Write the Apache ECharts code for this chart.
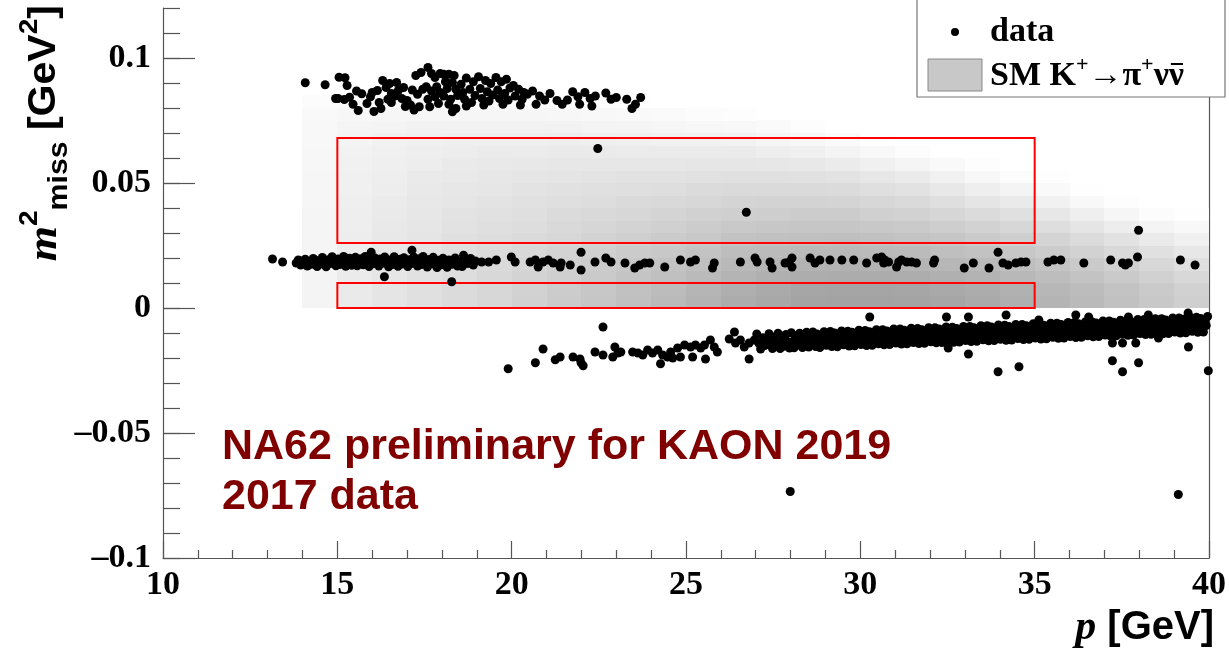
<!DOCTYPE html>
<html>
<head>
<meta charset="utf-8">
<script src="https://cdn.jsdelivr.net/npm/echarts@6/dist/echarts.min.js"></script>
<style>
  html, body { margin: 0; padding: 0; background: #fff; }
  #chart { width: 1229px; height: 658px; }
</style>
</head>
<body>
<div id="chart"></div>
<script>
// ---------- axis ticks ----------
const xMajorTicks = [10, 15, 20, 25, 30, 35, 40];
const yMajorTicks = [-0.1, -0.05, 0, 0.05, 0.1];

// ---------- SM K+ -> pi+ nu nubar expectation (2D histogram) ----------
// columns: 1 GeV momentum bins starting at 14 GeV; rows: 0.005 GeV^2 bins starting at 0
// values: relative density (0 = empty, 100 = darkest)
const smFirstP = 14;
const smPStep = 1;
const smM2Step = 0.005;
const smDensity = [
  [10,10,10,10,9,9,9,9,8,8,8,7,7,6,6,5,3],
  [18,18,17,17,16,16,15,15,14,13,13,12,11,10,9,7,4],
  [23,23,22,21,21,20,19,18,17,16,15,14,13,12,10,8,4],
  [27,27,26,25,24,23,22,21,20,19,18,16,15,13,11,8,4],
  [31,31,30,29,28,27,25,24,22,21,19,18,16,14,11,8,4],
  [35,35,34,32,31,30,28,26,24,22,21,19,17,14,11,8,4],
  [40,39,38,36,34,32,30,28,26,24,22,20,17,14,11,8,3],
  [45,44,42,40,38,35,33,31,28,26,23,21,18,15,11,7,3],
  [50,49,46,44,41,38,36,33,30,27,24,21,18,14,10,6,2],
  [55,54,51,48,45,42,38,35,32,28,25,21,17,13,9,5,1],
  [60,58,55,52,48,45,41,37,33,29,25,21,17,12,8,4],
  [66,64,60,56,52,48,44,40,35,31,26,22,17,12,7,3],
  [72,70,65,61,57,52,47,42,37,32,27,22,17,11,6,2],
  [76,74,69,64,59,54,49,43,38,32,27,21,15,9,4],
  [79,77,71,66,61,55,50,44,38,32,26,20,13,7,2],
  [80,78,72,67,61,56,50,44,37,31,24,17,10,4],
  [80,78,72,66,60,54,48,41,35,28,21,13,6,1],
  [79,77,71,65,59,52,46,39,32,25,17,9,3],
  [77,75,69,63,56,50,43,36,28,20,12,5],
  [74,72,66,60,53,46,39,31,23,15,7,2],
  [70,68,62,56,49,42,35,27,18,10,3],
  [65,63,57,51,44,37,29,21,12,5,1],
  [60,58,52,46,39,31,23,14,6,1],
  [54,52,46,40,33,25,16,8,2],
  [48,46,40,34,27,18,10,3],
  [42,40,34,28,21,13,6,1]
];

// ---------- signal regions: [pMin, pMax, m2Min, m2Max] ----------
const signalRegions = [
  [15, 35, 0.0, 0.010],
  [15, 35, 0.026, 0.068]
];

// ---------- data events: [p (GeV), m2 (1e-3 GeV^2)] ----------
// K+ -> pi+ pi+ pi- region
const threePiEvents = [
  [14.08,90.1],[14.65,89.3],[14.95,83.8],
  [15.05,92.3],[15.22,92.1],[15.28,89.0],[15.02,83.8],[15.2,83.4],[15.35,84.3],[15.45,81.5],
  [15.6,79.0],[15.7,85.7],[15.85,81.8],[15.95,84.5],[15.55,86.8],
  [16.05,78.6],[16.25,79.8],[16.0,86.2],[16.15,87.0],[16.3,91.0],[16.4,88.2],[16.45,83.5],[16.2,82.2],
  [16.5,89.8],[16.7,90.2],[16.55,85.8],[16.75,87.0],[16.9,88.2],[16.55,82.2],[16.85,83.8],[16.65,84.8],[16.95,80.6],
  [17.0,83.0],[17.25,93.0],[17.4,94.2],[17.15,87.2],[17.3,85.5],[17.45,87.5],[17.1,81.2],[17.35,80.5],[17.2,79.2],
  [17.6,96.2],[17.7,93.8],[17.8,92.2],[17.95,93.8],[17.55,88.5],[17.7,86.8],[17.85,88.5],[17.95,86.2],[17.6,83.5],[17.8,84.5],[17.65,80.5],[17.9,81.8],
  [18.05,93.5],[18.2,93.5],[18.35,93.0],[18.1,90.5],[18.3,90.2],[18.15,87.8],[18.4,87.5],[18.05,84.8],[18.25,83.5],[18.45,85.0],[18.2,81.5],[18.4,79.8],[18.3,78.5],
  [18.55,89.5],[18.7,92.0],[18.9,90.5],[18.6,86.2],[18.8,87.5],[18.95,85.0],[18.65,83.5],[18.85,82.2],[18.7,80.8],
  [19.05,92.5],[19.25,91.0],[19.4,89.8],[19.1,87.8],[19.3,86.5],[19.45,85.2],[19.15,83.8],[19.35,82.8],[19.2,81.2],
  [19.55,92.2],[19.7,90.5],[19.85,91.5],[19.6,87.2],[19.8,85.8],[19.95,88.0],[19.65,83.8],[19.9,83.2],[19.75,81.5],
  [20.05,89.0],[20.2,87.5],[20.35,86.2],[20.1,84.8],[20.3,83.5],[20.45,85.5],[20.25,81.2],
  [20.6,86.8],[20.8,84.8],[20.95,83.2],[20.7,81.5],
  [21.1,85.8],[21.3,83.0],[21.45,81.5],
  [21.6,83.2],[21.75,86.5],[21.9,84.5],[21.95,81.5],
  [22.1,86.2],[22.25,83.8],[22.4,84.8],[22.3,80.8],
  [22.7,86.0],[22.85,83.5],[23.0,84.2],
  [23.3,83.5],[23.45,79.8],[23.55,81.5],[23.7,84.2]
];

// K+ -> pi+ pi0 region
const pipi0Events = [
  [13.14,19.6],[13.43,18.4],
  [13.82,18.0],[13.88,19.2],[13.95,17.2],[13.98,18.8],
  [14.03,17.8],[14.08,19.5],[14.14,16.8],[14.2,18.6],[14.26,17.5],[14.31,19.8],[14.37,18.2],[14.42,16.6],[14.47,19.0],
  [14.52,17.6],[14.57,20.2],[14.63,18.4],[14.68,16.5],[14.74,19.3],[14.8,17.8],[14.85,20.5],[14.9,18.6],[14.96,16.9],
  [15.02,19.6],[15.07,17.4],[15.13,18.9],[15.18,20.6],[15.24,16.7],[15.3,18.2],[15.35,19.9],[15.41,17.1],[15.46,18.8],
  [15.52,20.3],[15.57,16.9],[15.63,18.5],[15.68,19.7],[15.74,17.3],[15.8,20.6],[15.85,18.0],[15.91,16.6],[15.96,19.4],[15.97,22.3],
  [16.02,17.7],[16.08,20.0],[16.13,18.6],[16.19,16.8],[16.24,19.6],[16.3,17.9],[16.35,12.5],[16.36,20.4],[16.41,18.3],[16.47,16.5],
  [16.52,19.2],[16.58,17.4],[16.63,20.5],[16.69,18.1],[16.74,16.7],[16.8,19.5],[16.85,17.6],[16.91,20.1],[16.96,18.4],
  [17.02,16.6],[17.07,19.3],[17.13,17.8],[17.14,23.1],[17.19,20.4],[17.24,18.5],[17.3,16.8],[17.35,19.7],[17.41,17.4],[17.46,20.6],
  [17.52,18.2],[17.58,16.4],[17.63,19.4],[17.69,17.6],[17.75,20.3],[17.8,18.0],[17.86,16.2],[17.91,19.1],[17.97,17.3],
  [18.03,19.9],[18.09,18.0],[18.15,16.3],[18.2,19.2],[18.28,10.5],[18.3,17.5],[18.38,20.0],[18.45,16.8],
  [18.52,18.6],[18.58,16.6],[18.62,21.1],[18.66,19.2],[18.74,17.8],[18.82,19.8],[18.9,17.2],[18.96,18.8],
  [19.14,18.4],[19.34,18.4],[19.56,19.2],[19.99,20.4],[20.1,18.4],[20.53,18.4],[20.68,19.2],[20.76,16.4],
  [20.9,18.4],[21.05,19.2],[21.19,18.0],[21.39,16.4],[21.42,18.0],[21.68,17.2],[21.99,22.3],[21.99,15.2],
  [22.39,18.4],[22.7,20.0],[22.85,18.4],[23.25,18.0],[23.53,16.0],[23.67,17.2],[23.82,18.0],[23.96,18.0],
  [24.39,16.4],[24.84,19.2],[25.13,18.4],[25.27,19.2],[25.81,18.0],[25.76,16.0],[26.56,18.4],
  [26.98,20.0],[27.04,18.4],[27.41,18.4],[27.47,16.0],[27.84,18.0],[28.04,20.0],[28.04,16.4],[27.96,18.4],
  [28.56,20.0],[28.7,18.0],[28.84,19.2],[29.13,19.2],[29.47,19.2],[29.81,19.2],[30.18,18.0],
  [30.47,20.0],[30.61,20.4],[30.7,19.2],[30.81,18.4],[30.67,18.0],[31.04,16.4],[31.1,18.4],[31.18,19.2],
  [31.33,18.4],[31.47,18.4],[31.61,18.0],[32.1,18.0],[32.13,19.2],[32.98,16.0],[33.24,18.0],[33.69,16.0],
  [33.95,22.3],[34.09,18.0],[34.24,17.2],[34.46,18.0],[34.61,18.4],[34.75,18.4],[35.38,18.4],[35.55,19.2],
  [35.75,19.2],[36.41,18.0],[37.18,19.2],[37.52,18.0],[37.6,17.2],[37.69,18.0],[37.95,20.4],[39.18,19.2],[39.6,17.2]
];

// K+ -> mu+ nu region: low-momentum tail
const muNuTail = [
  [19.9,-24.3],[20.68,-21.9],[20.9,-16.4],[21.25,-20.7],[21.39,-19.6],[21.76,-19.6],[21.96,-20.4],[22.05,-23.1],
  [21.99,-21.9],[22.39,-17.6],[22.62,-18.8],[22.62,-7.6],[22.96,-15.6],[22.9,-19.6],[23.13,-17.6],[23.05,-18.0],
  [23.47,-17.6],[23.62,-18.0],[23.76,-18.8],[23.9,-16.8],[24.04,-18.0],[24.19,-16.8],[24.33,-18.8],[24.47,-19.6],
  [24.56,-17.6],[24.27,-22.3],[24.62,-20.0],[24.84,-19.6],[24.76,-16.0],[24.96,-14.8],[25.13,-15.6],[25.27,-14.8],
  [25.42,-16.0],[25.53,-14.8],[25.7,-12.8],[25.81,-15.6],[25.19,-19.6],[25.56,-20.4],[25.9,-17.6],[26.24,-12.4],
  [26.39,-9.6],[26.42,-14.0],[26.56,-12.8],[26.67,-15.6],[26.81,-14.0],[26.96,-12.8],[26.81,-20.4]
];

// K+ -> mu+ nu region: main band
const muNuBand = [
  [27.03,-10.4],[27.09,-14.1],[27.14,-16.4],[27.2,-11.9],[27.26,-15.0],[27.32,-12.6],[27.38,-10.3],[27.43,-14.6],[27.48,-16.2],
  [27.53,-11.6],[27.58,-14.2],[27.64,-10.1],[27.7,-16.2],[27.76,-12.8],[27.81,-15.3],[27.87,-10.6],[27.92,-13.7],[27.97,-16.0],
  [28.02,-9.9],[28.06,-13.4],[28.1,-15.9],[28.14,-11.2],[28.18,-14.8],[28.22,-12.4],[28.26,-10.1],[28.3,-14.2],[28.34,-15.8],[28.38,-11.8],[28.42,-13.0],[28.46,-9.7],
  [28.52,-15.6],[28.56,-11.1],[28.6,-13.9],[28.64,-9.6],[28.68,-12.2],[28.72,-15.4],[28.76,-10.4],[28.8,-13.5],[28.84,-15.8],[28.88,-11.6],[28.92,-12.9],[28.96,-9.5],
  [29.02,-14.9],[29.06,-11.0],[29.1,-13.6],[29.14,-9.4],[29.18,-15.4],[29.22,-12.0],[29.26,-10.0],[29.3,-14.3],[29.34,-15.5],[29.38,-11.3],[29.42,-12.7],[29.46,-9.2],
  [29.52,-14.7],[29.56,-10.7],[29.6,-13.4],[29.64,-9.3],[29.68,-15.2],[29.72,-11.8],[29.76,-9.7],[29.8,-13.9],[29.84,-15.1],[29.88,-11.1],[29.92,-12.5],[29.96,-8.9],
  [30.02,-14.6],[30.06,-10.5],[30.1,-13.1],[30.14,-9.0],[30.18,-15.0],[30.22,-11.6],[30.26,-9.5],[30.3,-13.7],[30.34,-14.9],[30.38,-10.9],[30.42,-12.3],[30.46,-8.7],
  [30.52,-14.3],[30.56,-10.2],[30.6,-12.8],[30.64,-8.7],[30.68,-14.7],[30.72,-11.3],[30.76,-9.2],[30.8,-13.4],[30.84,-14.6],[30.88,-10.6],[30.92,-12.0],[30.96,-8.4],
  [31.02,-14.0],[31.06,-9.9],[31.1,-12.5],[31.14,-8.4],[31.18,-14.4],[31.22,-11.0],[31.26,-8.9],[31.3,-13.1],[31.34,-14.3],[31.38,-10.3],[31.42,-11.7],[31.46,-8.1],
  [31.52,-13.8],[31.56,-9.7],[31.6,-12.3],[31.64,-8.2],[31.68,-14.2],[31.72,-10.8],[31.76,-8.7],[31.8,-12.9],[31.84,-14.1],[31.88,-10.1],[31.92,-11.5],[31.96,-7.9],
  [32.02,-13.5],[32.06,-9.4],[32.1,-12.0],[32.14,-7.9],[32.18,-13.9],[32.22,-10.5],[32.26,-8.4],[32.3,-12.6],[32.34,-13.8],[32.38,-9.8],[32.42,-11.2],[32.46,-7.6],
  [32.52,-13.3],[32.56,-9.2],[32.6,-11.8],[32.64,-7.7],[32.68,-13.7],[32.72,-10.3],[32.76,-8.2],[32.8,-12.4],[32.84,-13.6],[32.88,-9.6],[32.92,-11.0],[32.96,-7.4],
  [33.02,-13.0],[33.06,-8.9],[33.1,-11.5],[33.14,-7.4],[33.18,-13.4],[33.22,-10.0],[33.26,-7.9],[33.3,-12.1],[33.34,-13.3],[33.38,-9.3],[33.42,-10.7],[33.46,-7.1],
  [33.52,-12.7],[33.56,-8.6],[33.6,-11.2],[33.64,-7.1],[33.68,-13.1],[33.72,-9.7],[33.76,-7.6],[33.8,-11.8],[33.84,-13.0],[33.88,-9.0],[33.92,-10.4],[33.96,-6.8],
  [34.02,-12.5],[34.06,-8.4],[34.1,-11.0],[34.14,-6.9],[34.18,-12.9],[34.22,-9.5],[34.26,-7.4],[34.3,-11.6],[34.34,-12.8],[34.38,-8.8],[34.42,-10.2],[34.46,-6.6],
  [34.52,-12.2],[34.56,-8.1],[34.6,-10.7],[34.64,-6.6],[34.68,-12.6],[34.72,-9.2],[34.76,-7.1],[34.8,-11.3],[34.84,-12.5],[34.88,-8.5],[34.92,-9.9],[34.96,-6.3],
  [35.02,-12.0],[35.06,-7.9],[35.1,-10.5],[35.14,-6.4],[35.18,-12.4],[35.22,-9.0],[35.26,-6.9],[35.3,-11.1],[35.34,-12.3],[35.38,-8.3],[35.42,-9.7],[35.46,-6.1],
  [35.52,-11.7],[35.56,-7.6],[35.6,-10.2],[35.64,-6.1],[35.68,-12.1],[35.72,-8.7],[35.76,-6.6],[35.8,-10.8],[35.84,-12.0],[35.88,-8.0],[35.92,-9.4],[35.96,-5.8],
  [36.02,-11.4],[36.06,-7.3],[36.1,-9.9],[36.14,-5.8],[36.18,-11.8],[36.22,-8.4],[36.26,-6.3],[36.3,-10.5],[36.34,-11.7],[36.38,-7.7],[36.42,-9.1],[36.46,-5.5],
  [36.52,-11.1],[36.56,-7.0],[36.6,-9.6],[36.64,-5.5],[36.68,-11.5],[36.72,-8.1],[36.76,-6.0],[36.8,-10.2],[36.84,-11.4],[36.88,-7.4],[36.92,-8.8],[36.96,-5.2],
  [37.02,-10.8],[37.06,-6.7],[37.1,-9.3],[37.14,-5.2],[37.18,-11.2],[37.22,-7.8],[37.26,-5.7],[37.3,-9.9],[37.34,-11.1],[37.38,-7.1],[37.42,-8.5],[37.46,-4.9],
  [37.52,-10.5],[37.56,-6.4],[37.6,-9.0],[37.64,-4.9],[37.68,-10.9],[37.72,-7.5],[37.76,-5.4],[37.8,-9.6],[37.84,-10.8],[37.88,-6.8],[37.92,-8.2],[37.96,-4.6],
  [38.02,-10.2],[38.06,-6.1],[38.1,-8.7],[38.14,-4.6],[38.18,-10.6],[38.22,-7.2],[38.26,-5.1],[38.3,-9.3],[38.34,-10.5],[38.38,-6.5],[38.42,-7.9],[38.46,-4.3],
  [38.52,-9.9],[38.56,-5.8],[38.6,-8.4],[38.64,-4.3],[38.68,-10.3],[38.72,-6.9],[38.76,-4.8],[38.8,-9.0],[38.84,-10.2],[38.88,-6.2],[38.92,-7.6],[38.96,-4.0],
  [39.02,-9.6],[39.06,-5.5],[39.1,-8.1],[39.14,-4.0],[39.18,-10.0],[39.22,-6.6],[39.26,-4.5],[39.3,-8.7],[39.34,-9.9],[39.38,-5.9],[39.42,-7.3],[39.46,-3.7],
  [39.52,-9.3],[39.56,-5.2],[39.6,-7.8],[39.64,-3.7],[39.68,-9.7],[39.72,-6.3],[39.76,-4.2],[39.8,-8.4],[39.84,-9.6],[39.88,-5.6],[39.92,-7.0],[39.96,-3.4]
];

// K+ -> mu+ nu region: events off the main band
const muNuOutliers = [
  [30.27,-3.6],[32.47,-3.6],[32.52,-16.0],[33.1,-3.6],[33.1,-18.4],[33.95,-25.5],[34.18,-2.8],[34.55,-23.5],
  [35.12,-4.8],[36.18,-2.8],[36.55,-3.6],[37.23,-14.0],[37.23,-21.1],[37.52,-14.0],[37.52,-25.5],[37.69,-3.6],
  [37.9,-14.0],[37.98,-21.9],[38.26,-2.8],[38.55,-12.0],[39.4,-2.0],[39.41,-15.6],[39.98,-25.1]
];

// isolated events
const otherEvents = [
  [22.47,63.8],[26.73,38.3],[37.98,31.1],[27.99,-73.4],[39.12,-74.6]
];

// ---------- build series data ----------
const smCells = [];
smDensity.forEach((col, i) => {
  col.forEach((d, j) => {
    if (d > 0) smCells.push([smFirstP + i * smPStep, j * smM2Step, d]);
  });
});

const eventPoints = [].concat(threePiEvents, pipi0Events, muNuTail, muNuBand, muNuOutliers, otherEvents)
  .map(e => [e[0], e[1] / 1000]);

const SERIF = '"Liberation Serif", "Times New Roman", serif';
const SANS = '"Liberation Sans", Arial, Helvetica, sans-serif';
const AXIS_COLOR = '#555';

function grayOf(d) {
  const g = Math.round(255 - d * 1.15);
  return 'rgb(' + g + ',' + g + ',' + g + ')';
}

function renderCell(params, api) {
  const p = api.value(0), m = api.value(1), d = api.value(2);
  const a = api.coord([p, m + smM2Step]);
  const b = api.coord([p + smPStep, m]);
  const x0 = Math.round(a[0]), y0 = Math.round(a[1]);
  const x1 = Math.round(b[0]), y1 = Math.round(b[1]);
  return {
    type: 'rect',
    shape: { x: x0, y: y0, width: x1 - x0, height: y1 - y0 },
    style: { fill: grayOf(d) }
  };
}

function renderRegion(params, api) {
  const a = api.coord([api.value(0), api.value(3)]);
  const b = api.coord([api.value(1), api.value(2)]);
  return {
    type: 'rect',
    shape: { x: a[0], y: a[1], width: b[0] - a[0], height: b[1] - a[1] },
    style: { fill: 'none', stroke: '#ff0000', lineWidth: 2 }
  };
}

function yLabel(v) {
  const r = Math.round(v * 1000) / 1000;
  return (r < 0 ? '\u2013' : '') + String(Math.abs(r));
}

// legend entry text pieces; the bar over the last nu is drawn as a line
const LEG_MAIN = 'bold 34px ' + SERIF;
const LEG_SUP = 'bold 22px ' + SERIF;
const legendX = 990;
const measureCtx = document.createElement('canvas').getContext('2d');
function textWidth(str, font) { measureCtx.font = font; return measureCtx.measureText(str).width; }
const nuBarX = legendX + textWidth('SM K', LEG_MAIN) + textWidth('+', LEG_SUP) +
  textWidth('\u2192\u03c0', LEG_MAIN) + textWidth('+', LEG_SUP) + textWidth('\u03bd', LEG_MAIN);
const nuBarW = textWidth('\u03bd', LEG_MAIN);

const chart = echarts.init(document.getElementById('chart'), null, { renderer: 'canvas' });

chart.setOption({
  animation: false,
  backgroundColor: '#ffffff',
  grid: { left: 163, right: 15, top: 8, bottom: 100, containLabel: false },
  xAxis: [{
    type: 'value', min: 10, max: 40, interval: 5,
    axisLine: { show: true, onZero: false, lineStyle: { color: AXIS_COLOR, width: 1.2 } },
    axisTick: { show: true, inside: true, length: 17, lineStyle: { color: AXIS_COLOR, width: 1.2 } },
    minorTick: { show: true, splitNumber: 5, length: 8, lineStyle: { color: AXIS_COLOR, width: 1.2 } },
    splitLine: { show: false },
    axisLabel: {
      margin: 10, color: '#000', fontFamily: SERIF, fontWeight: 'bold', fontSize: 34,
      customValues: xMajorTicks
    }
  }],
  yAxis: [{
    type: 'value', min: -0.1, max: 0.12, interval: 0.05, position: 'left',
    axisLine: { show: true, onZero: false, lineStyle: { color: AXIS_COLOR, width: 1.2 } },
    axisTick: { show: true, inside: true, length: 32, lineStyle: { color: AXIS_COLOR, width: 1.2 },
      customValues: yMajorTicks },
    splitLine: { show: false },
    axisLabel: {
      margin: 12, color: '#000', fontFamily: SERIF, fontWeight: 'bold', fontSize: 34,
      customValues: yMajorTicks, formatter: yLabel
    }
  }, {
    // 0.01 GeV^2 minor ticks
    type: 'value', min: -0.1, max: 0.12, interval: 0.01, position: 'left',
    axisLine: { show: false, onZero: false },
    axisTick: { show: true, inside: true, length: 17, lineStyle: { color: AXIS_COLOR, width: 1.2 } },
    axisLabel: { show: false },
    splitLine: { show: false }
  }, {
    // right frame line
    type: 'value', min: -0.1, max: 0.12, position: 'right',
    axisLine: { show: true, onZero: false, lineStyle: { color: AXIS_COLOR, width: 1.2 } },
    axisTick: { show: false },
    axisLabel: { show: false },
    splitLine: { show: false }
  }],
  series: [{
    name: 'SM K+ -> pi+ nu nubar',
    type: 'custom',
    xAxisIndex: 0, yAxisIndex: 0,
    renderItem: renderCell,
    encode: { x: 0, y: 1 },
    data: smCells,
    silent: true,
    clip: true,
    z: 1
  }, {
    name: 'signal regions',
    type: 'custom',
    xAxisIndex: 0, yAxisIndex: 0,
    renderItem: renderRegion,
    encode: { x: [0, 1], y: [2, 3] },
    data: signalRegions,
    silent: true,
    z: 2
  }, {
    name: 'data',
    type: 'scatter',
    xAxisIndex: 0, yAxisIndex: 0,
    symbol: 'circle',
    symbolSize: 9,
    itemStyle: { color: '#000', opacity: 1 },
    data: eventPoints,
    silent: true,
    clip: true,
    z: 3
  }],
  graphic: [
    // legend box
    { type: 'rect', z: 10, shape: { x: 917, y: -2, width: 308, height: 99 },
      style: { fill: '#fff', stroke: '#777', lineWidth: 1.2 } },
    { type: 'circle', z: 11, shape: { cx: 955, cy: 32, r: 4 }, style: { fill: '#000' } },
    { type: 'text', z: 11, x: legendX, y: 32,
      style: { text: 'data', font: LEG_MAIN, fill: '#000', align: 'left', verticalAlign: 'middle' } },
    { type: 'rect', z: 11, shape: { x: 928, y: 59, width: 54, height: 32 },
      style: { fill: '#c8c8c8', stroke: '#888', lineWidth: 1 } },
    { type: 'text', z: 11, x: legendX, y: 76,
      style: {
        text: '{t|SM K}{s|+}{t|\u2192\u03c0}{s|+}{t|\u03bd\u03bd}',
        align: 'left', verticalAlign: 'middle',
        rich: {
          t: { font: LEG_MAIN, lineHeight: 44, fill: '#000', verticalAlign: 'middle' },
          s: { font: LEG_SUP, lineHeight: 22, fill: '#000', verticalAlign: 'top' }
        }
      } },
    { type: 'line', z: 11, shape: { x1: nuBarX + 2, y1: 64, x2: nuBarX + nuBarW - 1, y2: 64 },
      style: { stroke: '#000', lineWidth: 2 } },
    // y axis title
    { type: 'text', z: 11, x: 45, y: 5, rotation: Math.PI / 2, scaleX: 1.08,
      style: {
        text: '{m|m}{sup|2}{sub|miss}{n| [GeV}{sup|2}{n|]}',
        align: 'right', verticalAlign: 'middle',
        rich: {
          m: { fontFamily: SERIF, fontStyle: 'italic', fontWeight: 'bold', fontSize: 42, lineHeight: 56, fill: '#000', verticalAlign: 'middle' },
          n: { fontFamily: SANS, fontWeight: 'bold', fontSize: 38, lineHeight: 56, fill: '#000', verticalAlign: 'middle' },
          sup: { fontFamily: SANS, fontWeight: 'bold', fontSize: 26, lineHeight: 26, fill: '#000', verticalAlign: 'top' },
          sub: { fontFamily: SANS, fontWeight: 'bold', fontSize: 28, lineHeight: 34, fill: '#000', verticalAlign: 'bottom' }
        }
      } },
    // x axis title
    { type: 'text', z: 11, x: 1214, y: 628,
      style: {
        text: '{i|p}{n| [GeV]}',
        align: 'right', verticalAlign: 'middle',
        rich: {
          i: { fontFamily: SERIF, fontStyle: 'italic', fontWeight: 'bold', fontSize: 42, lineHeight: 50, fill: '#000', verticalAlign: 'middle' },
          n: { fontFamily: SANS, fontWeight: 'bold', fontSize: 40, lineHeight: 50, fill: '#000', verticalAlign: 'middle' }
        }
      } },
    // experiment label
    { type: 'text', z: 11, x: 222, y: 447,
      style: { text: 'NA62 preliminary for KAON 2019', font: 'bold 43px ' + SANS, fill: '#800000',
        align: 'left', verticalAlign: 'middle' } },
    { type: 'text', z: 11, x: 222, y: 497,
      style: { text: '2017 data', font: 'bold 43px ' + SANS, fill: '#800000',
        align: 'left', verticalAlign: 'middle' } }
  ]
});
</script>
</body>
</html>
